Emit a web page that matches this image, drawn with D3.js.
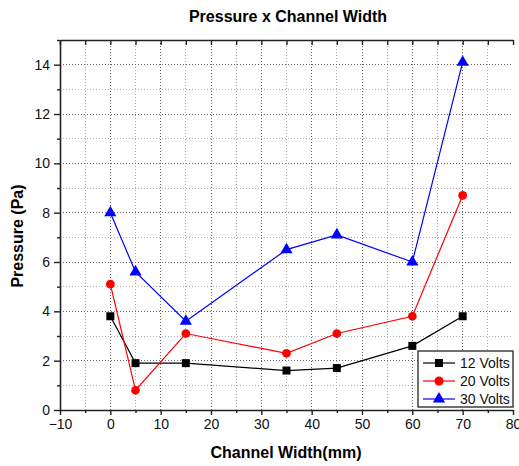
<!DOCTYPE html>
<html>
<head>
<meta charset="utf-8">
<script src="https://cdn.jsdelivr.net/npm/d3@7"></script>
<style>
  html, body { margin: 0; padding: 0; background: #fff; }
  svg { display: block; font-family: "Liberation Sans", Arial, sans-serif; }
</style>
</head>
<body>
<svg id="chart" width="519" height="466"></svg>
<script>
// Channel widths (mm) where pressure was measured
const widths = [0, 5, 15, 35, 45, 60, 70];

// Pressure (Pa) for each supply voltage
const volts12 = [3.8, 1.9, 1.9, 1.6, 1.7, 2.6, 3.8];
const volts20 = [5.1, 0.8, 3.1, 2.3, 3.1, 3.8, 8.7];
const volts30 = [8.0, 5.6, 3.6, 6.5, 7.1, 6.0, 14.1];

const seriesNames = ["12 Volts", "20 Volts", "30 Volts"];
const seriesColors = ["#000000", "#ff0000", "#0000ff"];
const seriesShapes = [d3.symbolSquare, d3.symbolCircle, d3.symbolTriangle];
const seriesValues = [volts12, volts20, volts30];

const xTicks = [-10, 0, 10, 20, 30, 40, 50, 60, 70, 80];
const yTicks = [0, 2, 4, 6, 8, 10, 12, 14];

const margin = { left: 60, right: 6, top: 40, bottom: 56 };
const W = 519, H = 466;
const svg = d3.select("#chart");

const x = d3.scaleLinear().domain([-10, 80]).range([margin.left, W - margin.right]);
const y = d3.scaleLinear().domain([0, 15]).range([H - margin.bottom, margin.top]);

const x0 = x.range()[0], x1 = x.range()[1];
const y0 = y.range()[0], y1 = y.range()[1];

// Grid: minor (every 5 / every 1) lighter, major darker
const gx = d3.range(-5, 80, 5);
const gy = d3.range(1, 15, 1);
const grid = svg.append("g");
grid.selectAll("line.gx").data(gx).join("line")
  .attr("x1", d => x(d)).attr("x2", d => x(d))
  .attr("y1", y0).attr("y2", y1)
  .attr("stroke", d => d % 10 === 0 ? "#666" : "#b0b0b0")
  .attr("stroke-width", 1)
  .attr("stroke-dasharray", "1,2")
  .attr("shape-rendering", "crispEdges");
grid.selectAll("line.gy").data(gy).join("line")
  .attr("x1", x0).attr("x2", x1)
  .attr("y1", d => y(d)).attr("y2", d => y(d))
  .attr("stroke", d => d % 2 === 0 ? "#666" : "#b0b0b0")
  .attr("stroke-width", 1)
  .attr("stroke-dasharray", "1,2")
  .attr("shape-rendering", "crispEdges");

// Axes
const axisColor = "#222";
function styleAxis(g) {
  g.select(".domain").attr("stroke", axisColor).attr("stroke-width", 1.6);
  g.selectAll(".tick line").attr("stroke", axisColor).attr("stroke-width", 1.4);
  g.selectAll(".tick text").attr("fill", "#111").style("font-size", "14px")
    .style("font-family", '"Liberation Sans", Arial, sans-serif');
}

// bottom: major labelled ticks + minor ticks
const xAxis = svg.append("g").attr("transform", `translate(0,${y0})`)
  .call(d3.axisBottom(x).tickValues(xTicks).tickSize(5).tickSizeOuter(0).tickPadding(4));
styleAxis(xAxis);
svg.append("g").attr("transform", `translate(0,${y0})`)
  .call(d3.axisBottom(x).tickValues(d3.range(-5, 80, 10)).tickSize(3).tickFormat(""))
  .call(g => { g.select(".domain").remove(); g.selectAll(".tick line").attr("stroke", axisColor).attr("stroke-width", 1.4); });

// top: ticks pointing inward, no labels
const xTop = svg.append("g").attr("transform", `translate(0,${y1})`)
  .call(d3.axisTop(x).tickValues(d3.range(-10, 81, 5)).tickSize(-5).tickSizeOuter(0).tickFormat(""));
styleAxis(xTop);

// left
const yAxis = svg.append("g").attr("transform", `translate(${x0},0)`)
  .call(d3.axisLeft(y).tickValues(yTicks).tickSize(6).tickSizeOuter(0).tickPadding(4));
styleAxis(yAxis);
svg.append("g").attr("transform", `translate(${x0},0)`)
  .call(d3.axisLeft(y).tickValues(d3.range(1, 16, 2)).tickSize(3).tickFormat(""))
  .call(g => { g.select(".domain").remove(); g.selectAll(".tick line").attr("stroke", axisColor).attr("stroke-width", 1.4); });

// Series lines and markers
const line = d3.line().x(d => x(d[0])).y(d => y(d[1]));
seriesValues.forEach((vals, i) => {
  const pts = widths.map((w, j) => [w, vals[j]]);
  svg.append("path").datum(pts)
    .attr("d", line)
    .attr("fill", "none")
    .attr("stroke", seriesColors[i])
    .attr("stroke-width", 1.2);
  const sizes = [64, 60, 64];
  svg.append("g").selectAll("path").data(pts).join("path")
    .attr("transform", d => `translate(${x(d[0])},${y(d[1])})`)
    .attr("d", d3.symbol().type(seriesShapes[i]).size(sizes[i]))
    .attr("fill", seriesColors[i]);
});

// Titles
svg.append("text").attr("x", 288).attr("y", 22)
  .attr("text-anchor", "middle").attr("font-weight", "bold").style("font-size", "16px")
  .text("Pressure x Channel Width");
svg.append("text").attr("x", 286).attr("y", 458)
  .attr("text-anchor", "middle").attr("font-weight", "bold").style("font-size", "16px")
  .text("Channel Width(mm)");
svg.append("text").attr("transform", "translate(23,236) rotate(-90)")
  .attr("text-anchor", "middle").attr("font-weight", "bold").style("font-size", "16px")
  .text("Pressure (Pa)");

// Legend
const lg = svg.append("g");
lg.append("rect").attr("x", 418).attr("y", 351).attr("width", 95).attr("height", 56)
  .attr("fill", "#fff").attr("stroke", "#333").attr("stroke-width", 1.4);
seriesNames.forEach((name, i) => {
  const cy = 363 + i * 18;
  lg.append("line").attr("x1", 423).attr("x2", 455).attr("y1", cy).attr("y2", cy)
    .attr("stroke", seriesColors[i]).attr("stroke-width", 1.2);
  lg.append("path").attr("transform", `translate(439,${cy})`)
    .attr("d", d3.symbol().type(seriesShapes[i]).size(64))
    .attr("fill", seriesColors[i]);
  lg.append("text").attr("x", 460).attr("y", cy + 5).style("font-size", "14px")
    .attr("fill", "#111").text(name);
});
</script>
</body>
</html>
